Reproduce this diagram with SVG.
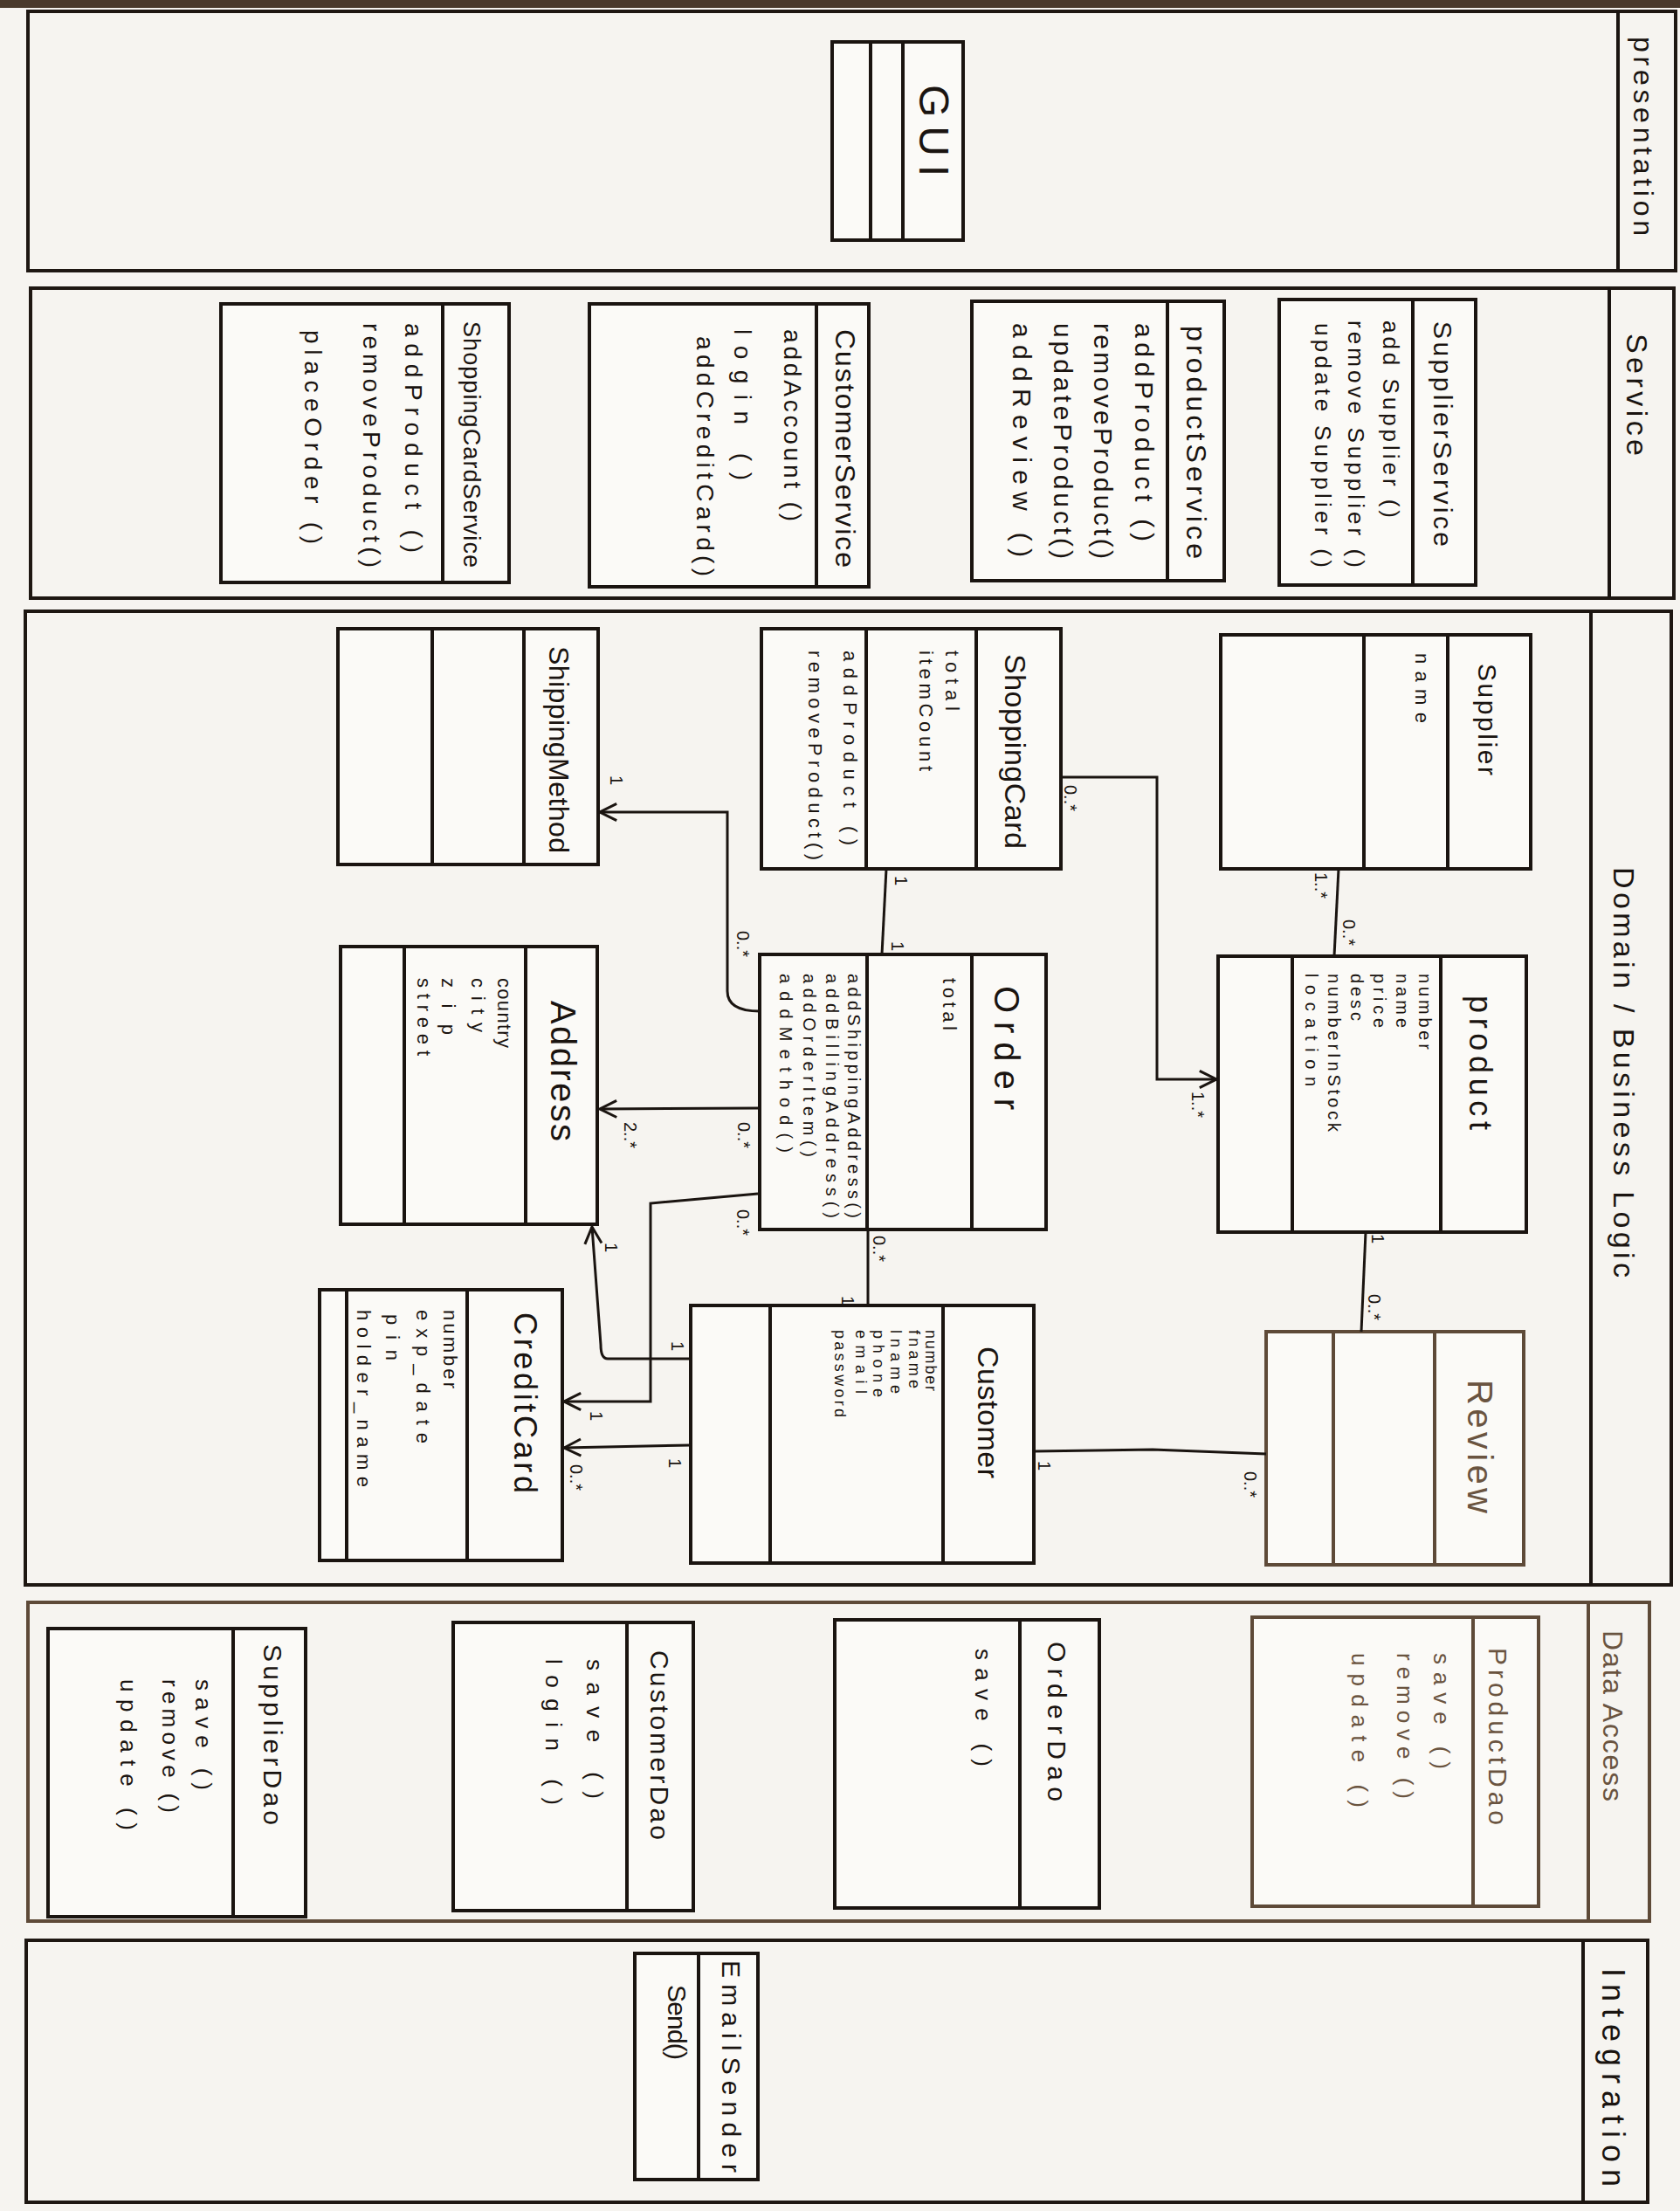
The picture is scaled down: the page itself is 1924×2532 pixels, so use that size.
<svg xmlns="http://www.w3.org/2000/svg" width="1924" height="2532" viewBox="0 0 1924 2532">
<style>
.band{fill:none;stroke:#1e1712;stroke-width:4}
.box{fill:#fbfaf7;stroke:#1a1410;stroke-width:4}
.div{stroke:#1a1410;stroke-width:4}
.brn{stroke:#5e4a38}
.con{fill:none;stroke:#1a1410;stroke-width:3}
.t{font-family:"Liberation Sans",Arial,sans-serif;fill:#1a1410;dominant-baseline:central}
.tb{fill:#6a5440}
.lb{font-family:"Liberation Sans",Arial,sans-serif;fill:#1a1410;font-size:20px;dominant-baseline:central}
</style>
<defs>
<marker id="arr" viewBox="0 0 20 20" refX="18" refY="10" markerWidth="24" markerHeight="24" markerUnits="userSpaceOnUse" orient="auto">
<path d="M2,2 L18,10 L2,18" fill="none" stroke="#1a1410" stroke-width="2.5"/>
</marker>
</defs>
<rect x="0" y="0" width="1924" height="2532" fill="#f6f4f0"/>
<rect x="0" y="0" width="1924" height="9" fill="#4a3a2c"/>

<g id="band-presentation">
<rect class="band" x="32" y="13" width="1887" height="297"/>
<line class="div" x1="1853" y1="13" x2="1853" y2="310"/>
<text class="t" x="1882" y="42" font-size="32" textLength="228" transform="rotate(90 1882 42)">presentation</text>
</g>
<g id="band-service">
<rect class="band" x="35" y="330" width="1882" height="355"/>
<line class="div" x1="1843" y1="330" x2="1843" y2="685"/>
<text class="t" x="1875" y="382" font-size="34" textLength="140" transform="rotate(90 1875 382)">Service</text>
</g>
<g id="band-domain">
<rect class="band" x="29" y="700" width="1885" height="1115"/>
<line class="div" x1="1822" y1="700" x2="1822" y2="1815"/>
<text class="t" x="1860" y="993" font-size="34" textLength="470" transform="rotate(90 1860 993)">Domain / Business Logic</text>
</g>
<g id="band-data-access">
<rect class="band brn" x="32" y="1835" width="1857" height="365"/>
<line class="div brn" x1="1819" y1="1835" x2="1819" y2="2200"/>
<text class="t tb" x="1847" y="1867" font-size="32" textLength="196" transform="rotate(90 1847 1867)">Data Access</text>
</g>
<g id="band-integration">
<rect class="band" x="30" y="2222" width="1857" height="300"/>
<line class="div" x1="1813" y1="2222" x2="1813" y2="2522"/>
<text class="t" x="1847" y="2254" font-size="36" textLength="250" transform="rotate(90 1847 2254)">Integration</text>
</g>

<g id="gui">
<rect class="box" x="953" y="48" width="150" height="227"/>
<line class="div" x1="997" y1="48" x2="997" y2="275"/>
<line class="div" x1="1034" y1="48" x2="1034" y2="275"/>
<text class="t" x="1069" y="97" font-size="48" textLength="105" transform="rotate(90 1069 97)">GUI</text>
</g>

<g id="supplier-service">
<rect class="box" x="1465" y="343" width="225" height="327"/>
<line class="div" x1="1618" y1="343" x2="1618" y2="670"/>
<text class="t" x="1652" y="368" font-size="30" textLength="258" transform="rotate(90 1652 368)">SupplierService</text>
<text class="t" x="1593" y="367" font-size="26" textLength="226" transform="rotate(90 1593 367)">add Supplier ()</text>
<text class="t" x="1553" y="367" font-size="26" textLength="283" transform="rotate(90 1553 367)">remove Supplier ()</text>
<text class="t" x="1515" y="370" font-size="26" textLength="280" transform="rotate(90 1515 370)">update Supplier ()</text>
</g>
<g id="product-service">
<rect class="box" x="1113" y="345" width="289" height="320"/>
<line class="div" x1="1337" y1="345" x2="1337" y2="665"/>
<text class="t" x="1370" y="373" font-size="32" textLength="267" transform="rotate(90 1370 373)">productService</text>
<text class="t" x="1310" y="370" font-size="30" textLength="250" transform="rotate(90 1310 370)">addProduct ()</text>
<text class="t" x="1263" y="370" font-size="30" textLength="270" transform="rotate(90 1263 370)">removeProduct()</text>
<text class="t" x="1217" y="370" font-size="30" textLength="270" transform="rotate(90 1217 370)">updateProduct()</text>
<text class="t" x="1170" y="370" font-size="30" textLength="268" transform="rotate(90 1170 370)">addReview ()</text>
</g>
<g id="customer-service">
<rect class="box" x="675" y="348" width="320" height="324"/>
<line class="div" x1="935" y1="348" x2="935" y2="672"/>
<text class="t" x="968" y="377" font-size="32" textLength="273" transform="rotate(90 968 377)">CustomerService</text>
<text class="t" x="907" y="377" font-size="28" textLength="220" transform="rotate(90 907 377)">addAccount ()</text>
<text class="t" x="850" y="377" font-size="28" textLength="173" transform="rotate(90 850 377)">login ()</text>
<text class="t" x="807" y="385" font-size="28" textLength="275" transform="rotate(90 807 385)">addCreditCard()</text>
</g>
<g id="shopping-card-service">
<rect class="box" x="253" y="348" width="330" height="319"/>
<line class="div" x1="507" y1="348" x2="507" y2="667"/>
<text class="t" x="540" y="368" font-size="27" textLength="282" transform="rotate(90 540 368)">ShoppingCardService</text>
<text class="t" x="473" y="370" font-size="28" textLength="263" transform="rotate(90 473 370)">addProduct ()</text>
<text class="t" x="425" y="370" font-size="28" textLength="280" transform="rotate(90 425 370)">removeProduct()</text>
<text class="t" x="358" y="378" font-size="28" textLength="245" transform="rotate(90 358 378)">placeOrder ()</text>
</g>

<g id="supplier">
<rect class="box" x="1398" y="727" width="355" height="268"/>
<line class="div" x1="1562" y1="727" x2="1562" y2="995"/>
<line class="div" x1="1658" y1="727" x2="1658" y2="995"/>
<text class="t" x="1703" y="760" font-size="30" textLength="128" transform="rotate(90 1703 760)">Supplier</text>
<text class="t" x="1628" y="748" font-size="22" textLength="80" transform="rotate(90 1628 748)">name</text>
</g>
<g id="product">
<rect class="box" x="1395" y="1095" width="353" height="316"/>
<line class="div" x1="1480" y1="1095" x2="1480" y2="1411"/>
<line class="div" x1="1650" y1="1095" x2="1650" y2="1411"/>
<text class="t" x="1695" y="1140" font-size="36" textLength="154" transform="rotate(90 1695 1140)">product</text>
<text class="t" x="1632" y="1115" font-size="20" textLength="87" transform="rotate(90 1632 1115)">number</text>
<text class="t" x="1606" y="1115" font-size="20" textLength="62" transform="rotate(90 1606 1115)">name</text>
<text class="t" x="1580" y="1115" font-size="20" textLength="62" transform="rotate(90 1580 1115)">price</text>
<text class="t" x="1554" y="1115" font-size="20" textLength="54" transform="rotate(90 1554 1115)">desc</text>
<text class="t" x="1528" y="1115" font-size="20" textLength="181" transform="rotate(90 1528 1115)">numberInStock</text>
<text class="t" x="1502" y="1115" font-size="20" textLength="129" transform="rotate(90 1502 1115)">location</text>
</g>
<g id="shopping-card">
<rect class="box" x="872" y="720" width="343" height="275"/>
<line class="div" x1="992" y1="720" x2="992" y2="995"/>
<line class="div" x1="1118" y1="720" x2="1118" y2="995"/>
<text class="t" x="1163" y="749" font-size="34" textLength="223" transform="rotate(90 1163 749)">ShoppingCard</text>
<text class="t" x="1090" y="745" font-size="22" textLength="69" transform="rotate(90 1090 745)">total</text>
<text class="t" x="1060" y="745" font-size="22" textLength="138" transform="rotate(90 1060 745)">itemCount</text>
<text class="t" x="973" y="745" font-size="22" textLength="223" transform="rotate(90 973 745)">addProduct ()</text>
<text class="t" x="933" y="745" font-size="22" textLength="240" transform="rotate(90 933 745)">removeProduct()</text>
</g>
<g id="order">
<rect class="box" x="870" y="1093" width="328" height="315"/>
<line class="div" x1="993" y1="1093" x2="993" y2="1408"/>
<line class="div" x1="1113" y1="1093" x2="1113" y2="1408"/>
<text class="t" x="1153" y="1129" font-size="40" textLength="142" transform="rotate(90 1153 1129)">Order</text>
<text class="t" x="1087" y="1120" font-size="22" textLength="60" transform="rotate(90 1087 1120)">total</text>
<text class="t" x="978" y="1115" font-size="20" textLength="280" transform="rotate(90 978 1115)">addShippingAddress()</text>
<text class="t" x="953" y="1115" font-size="20" textLength="280" transform="rotate(90 953 1115)">addBillingAddress()</text>
<text class="t" x="927" y="1115" font-size="20" textLength="210" transform="rotate(90 927 1115)">addOrderItem()</text>
<text class="t" x="900" y="1115" font-size="20" textLength="205" transform="rotate(90 900 1115)">addMethod()</text>
</g>
<g id="shipping-method">
<rect class="box" x="387" y="720" width="298" height="270"/>
<line class="div" x1="495" y1="720" x2="495" y2="990"/>
<line class="div" x1="600" y1="720" x2="600" y2="990"/>
<text class="t" x="640" y="740" font-size="32" textLength="237" transform="rotate(90 640 740)">ShippingMethod</text>
</g>
<g id="address">
<rect class="box" x="390" y="1084" width="294" height="318"/>
<line class="div" x1="463" y1="1084" x2="463" y2="1402"/>
<line class="div" x1="602" y1="1084" x2="602" y2="1402"/>
<text class="t" x="645" y="1146" font-size="40" textLength="161" transform="rotate(90 645 1146)">Address</text>
<text class="t" x="577" y="1120" font-size="22" textLength="80" transform="rotate(90 577 1120)">country</text>
<text class="t" x="547" y="1120" font-size="22" textLength="62" transform="rotate(90 547 1120)">city</text>
<text class="t" x="513" y="1120" font-size="22" textLength="65" transform="rotate(90 513 1120)">zip</text>
<text class="t" x="485" y="1120" font-size="22" textLength="89" transform="rotate(90 485 1120)">street</text>
</g>
<g id="credit-card">
<rect class="box" x="366" y="1477" width="278" height="310"/>
<line class="div" x1="397" y1="1477" x2="397" y2="1787"/>
<line class="div" x1="535" y1="1477" x2="535" y2="1787"/>
<text class="t" x="601" y="1503" font-size="36" textLength="207" transform="rotate(90 601 1503)">CreditCard</text>
<text class="t" x="515" y="1500" font-size="22" textLength="90" transform="rotate(90 515 1500)">number</text>
<text class="t" x="484" y="1500" font-size="22" textLength="153" transform="rotate(90 484 1500)">exp_date</text>
<text class="t" x="449" y="1505" font-size="22" textLength="53" transform="rotate(90 449 1505)">pin</text>
<text class="t" x="416" y="1500" font-size="22" textLength="203" transform="rotate(90 416 1500)">holder_name</text>
</g>
<g id="customer">
<rect class="box" x="791" y="1495" width="393" height="295"/>
<line class="div" x1="882" y1="1495" x2="882" y2="1790"/>
<line class="div" x1="1080" y1="1495" x2="1080" y2="1790"/>
<text class="t" x="1132" y="1542" font-size="34" textLength="151" transform="rotate(90 1132 1542)">Customer</text>
<text class="t" x="1066" y="1523" font-size="18" textLength="70" transform="rotate(90 1066 1523)">number</text>
<text class="t" x="1047" y="1523" font-size="18" textLength="67" transform="rotate(90 1047 1523)">fname</text>
<text class="t" x="1026" y="1523" font-size="18" textLength="73" transform="rotate(90 1026 1523)">lname</text>
<text class="t" x="1006" y="1523" font-size="18" textLength="77" transform="rotate(90 1006 1523)">phone</text>
<text class="t" x="986" y="1523" font-size="18" textLength="73" transform="rotate(90 986 1523)">email</text>
<text class="t" x="962" y="1523" font-size="18" textLength="100" transform="rotate(90 962 1523)">password</text>
</g>
<g id="review">
<rect class="box brn" x="1450" y="1525" width="295" height="267"/>
<line class="div brn" x1="1527" y1="1525" x2="1527" y2="1792"/>
<line class="div brn" x1="1643" y1="1525" x2="1643" y2="1792"/>
<text class="t tb" x="1695" y="1580" font-size="40" textLength="153" transform="rotate(90 1695 1580)">Review</text>
</g>

<g id="product-dao">
<rect class="box brn" x="1434" y="1852" width="328" height="331"/>
<line class="div brn" x1="1687" y1="1852" x2="1687" y2="2183"/>
<text class="t tb" x="1715" y="1887" font-size="30" textLength="203" transform="rotate(90 1715 1887)">ProductDao</text>
<text class="t tb" x="1651" y="1893" font-size="26" textLength="133" transform="rotate(90 1651 1893)">save ()</text>
<text class="t tb" x="1609" y="1893" font-size="26" textLength="167" transform="rotate(90 1609 1893)">remove ()</text>
<text class="t tb" x="1557" y="1893" font-size="26" textLength="177" transform="rotate(90 1557 1893)">update ()</text>
</g>
<g id="order-dao">
<rect class="box" x="956" y="1855" width="303" height="330"/>
<line class="div" x1="1168" y1="1855" x2="1168" y2="2185"/>
<text class="t" x="1210" y="1880" font-size="30" textLength="183" transform="rotate(90 1210 1880)">OrderDao</text>
<text class="t" x="1126" y="1888" font-size="26" textLength="135" transform="rotate(90 1126 1888)">save ()</text>
</g>
<g id="customer-dao">
<rect class="box" x="519" y="1858" width="275" height="330"/>
<line class="div" x1="718" y1="1858" x2="718" y2="2188"/>
<text class="t" x="755" y="1890" font-size="30" textLength="217" transform="rotate(90 755 1890)">CustomerDao</text>
<text class="t" x="681" y="1900" font-size="26" textLength="160" transform="rotate(90 681 1900)">save ()</text>
<text class="t" x="634" y="1900" font-size="26" textLength="167" transform="rotate(90 634 1900)">login ()</text>
</g>
<g id="supplier-dao">
<rect class="box" x="55" y="1865" width="295" height="330"/>
<line class="div" x1="267" y1="1865" x2="267" y2="2195"/>
<text class="t" x="312" y="1883" font-size="30" textLength="207" transform="rotate(90 312 1883)">SupplierDao</text>
<text class="t" x="233" y="1923" font-size="26" textLength="127" transform="rotate(90 233 1923)">save ()</text>
<text class="t" x="195" y="1923" font-size="26" textLength="153" transform="rotate(90 195 1923)">remove ()</text>
<text class="t" x="147" y="1923" font-size="26" textLength="173" transform="rotate(90 147 1923)">update ()</text>
</g>

<g id="email-sender">
<rect class="box" x="727" y="2237" width="141" height="259"/>
<line class="div" x1="800" y1="2237" x2="800" y2="2496"/>
<text class="t" x="837" y="2245" font-size="30" textLength="243" transform="rotate(90 837 2245)">EmailSender</text>
<text class="t" x="775" y="2273" font-size="30" textLength="86" transform="rotate(90 775 2273)">Send()</text>
</g>

<g id="connectors">
<path class="con" d="M1533,995 L1528,1095"/>
<path class="con" d="M1215,890 L1325,890 L1325,1236 L1393,1236" marker-end="url(#arr)"/>
<path class="con" d="M1015,995 L1010,1093"/>
<path class="con" d="M870,1158 Q833,1158 833,1135 L833,930 L687,930" marker-end="url(#arr)"/>
<path class="con" d="M870,1269 L687,1270" marker-end="url(#arr)"/>
<path class="con" d="M868,1367 L745,1378 L745,1605 L646,1605" marker-end="url(#arr)"/>
<path class="con" d="M791,1556 L696,1556 Q688,1556 688,1540 L678,1405" marker-end="url(#arr)"/>
<path class="con" d="M791,1655 L646,1658" marker-end="url(#arr)"/>
<path class="con" d="M994,1408 L994,1495"/>
<path class="con" d="M1184,1662 L1320,1660 L1450,1665"/>
<path class="con" d="M1564,1411 L1559,1525"/>
<text class="lb" x="1513" y="999" transform="rotate(90 1513 999)">1..*</text>
<text class="lb" x="1545" y="1053" transform="rotate(90 1545 1053)">0..*</text>
<text class="lb" x="1226" y="899" transform="rotate(90 1226 899)">0..*</text>
<text class="lb" x="1372" y="1250" transform="rotate(90 1372 1250)">1..*</text>
<text class="lb" x="1032" y="1003" transform="rotate(90 1032 1003)">1</text>
<text class="lb" x="1028" y="1078" transform="rotate(90 1028 1078)">1</text>
<text class="lb" x="706" y="888" transform="rotate(90 706 888)">1</text>
<text class="lb" x="851" y="1066" transform="rotate(90 851 1066)">0..*</text>
<text class="lb" x="852" y="1285" transform="rotate(90 852 1285)">0..*</text>
<text class="lb" x="722" y="1285" transform="rotate(90 722 1285)">2..*</text>
<text class="lb" x="851" y="1385" transform="rotate(90 851 1385)">0..*</text>
<text class="lb" x="683" y="1616" transform="rotate(90 683 1616)">1</text>
<text class="lb" x="700" y="1423" transform="rotate(90 700 1423)">1</text>
<text class="lb" x="776" y="1536" transform="rotate(90 776 1536)">1</text>
<text class="lb" x="773" y="1670" transform="rotate(90 773 1670)">1</text>
<text class="lb" x="660" y="1677" transform="rotate(90 660 1677)">0..*</text>
<text class="lb" x="1007" y="1415" transform="rotate(90 1007 1415)">0..*</text>
<text class="lb" x="971" y="1484" transform="rotate(90 971 1484)">1</text>
<text class="lb" x="1196" y="1673" transform="rotate(90 1196 1673)">1</text>
<text class="lb" x="1432" y="1685" transform="rotate(90 1432 1685)">0..*</text>
<text class="lb" x="1578" y="1413" transform="rotate(90 1578 1413)">1</text>
<text class="lb" x="1574" y="1482" transform="rotate(90 1574 1482)">0..*</text>
</g>
</svg>
